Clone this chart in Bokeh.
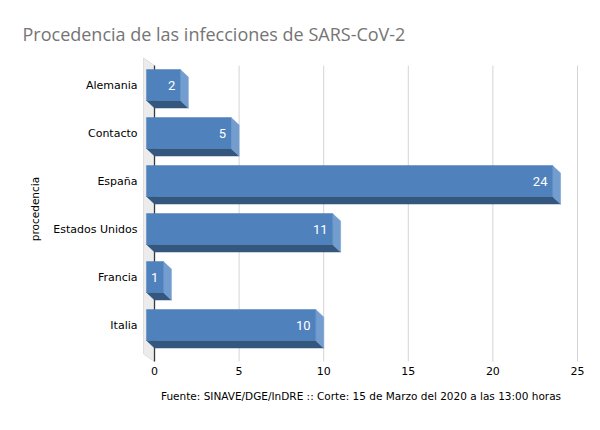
from bokeh.plotting import figure
from bokeh.models import Range1d, FixedTicker, Title, ColumnDataSource
from bokeh.embed import file_html
from bokeh.resources import INLINE
from bokeh.core.properties import value

categories = ["Alemania", "Contacto", "España", "Estados Unidos", "Francia", "Italia"]
counts = [2, 5, 24, 11, 1, 10]
x_ticks = [0, 5, 10, 15, 20, 25]
title_text = "Procedencia de las infecciones de SARS-CoV-2"
source_text = "Fuente: SINAVE/DGE/InDRE :: Corte: 15 de Marzo del 2020 a las 13:00 horas"
axis_title = "procedencia"

W, H = 600, 430
p = figure(width=W, height=H, output_backend="svg", toolbar_location=None,
           x_range=Range1d(-0.71, 25.12), y_range=Range1d(5.781, -0.615),
           min_border_left=142, min_border_right=21, min_border_top=55, min_border_bottom=68)
p.outline_line_color = None
p.background_fill_color = "white"
p.border_fill_color = "white"
p.xgrid.visible = False
p.ygrid.visible = False

# 3D geometry (in data units: x unit = 16.92px, y unit = 48px)
dx = 8 / 16.92
dy = 7.5 / 48
h = 15.5 / 48
n = len(categories)

# wall
wall_dx = 11 / 16.92
back_top = -0.5 + 0.094
back_bot = n - 0.5 + 0.26
p.patch([-wall_dx, 0, 0, -wall_dx],
        [back_top - dy, back_top, back_bot, back_bot - dy],
        fill_color="#ececec", line_color="#dedede", line_width=1)

# gridlines
gx = [t for t in x_ticks if t > 0]
p.segment(x0=gx, x1=gx, y0=[back_top] * len(gx), y1=[back_bot] * len(gx),
          line_color="#d4d4d4", line_width=1)
# axis line at zero
p.segment(x0=[0], x1=[0], y0=[back_top], y1=[back_bot], line_color="#3a3a3a", line_width=1.3)

ys = list(range(n))
# bottom face
p.patches([[-dx, v - dx, v, 0] for v in counts],
          [[i + h, i + h, i + h + dy, i + h + dy] for i, v in zip(ys, counts)],
          fill_color="#34577e", line_color="#34577e", line_width=0.5)
# side face
p.patches([[v - dx, v, v, v - dx] for v in counts],
          [[i - h, i - h + dy, i + h + dy, i + h] for i, v in zip(ys, counts)],
          fill_color="#739dcf", line_color="#739dcf", line_width=0.5)
# front face
p.quad(left=[-dx] * n, right=[v - dx for v in counts],
       top=[i - h for i in ys], bottom=[i + h for i in ys],
       fill_color="#4f81bd", line_color="#4f81bd", line_width=0.5)

src = ColumnDataSource(dict(x=[v - dx - 0.3 for v in counts], y=ys, t=[str(v) for v in counts]))
p.text(x="x", y="y", text="t", source=src, text_color="white", text_align="right",
       text_baseline="middle", text_font=value("Roboto"), text_font_size="13px")

# axes
p.xaxis.ticker = FixedTicker(ticks=x_ticks)
p.xaxis.axis_line_color = None
p.xaxis.major_tick_line_color = None
p.xaxis.minor_tick_line_color = None
p.xaxis.major_tick_out = 0
p.xaxis.minor_tick_out = 0
p.xaxis.major_label_standoff = 4
p.xaxis.major_label_text_font = "DejaVu Sans"
p.xaxis.major_label_text_font_size = "11px"
p.xaxis.major_label_text_color = "#000000"

p.yaxis.ticker = FixedTicker(ticks=ys)
p.yaxis.major_label_overrides = {i: c for i, c in enumerate(categories)}
p.yaxis.axis_line_color = None
p.yaxis.major_tick_line_color = None
p.yaxis.minor_tick_line_color = None
p.yaxis.major_tick_out = 0
p.yaxis.minor_tick_out = 0
p.yaxis.major_label_standoff = 5
p.yaxis.major_label_text_font = "DejaVu Sans"
p.yaxis.major_label_text_font_size = "11px"
p.yaxis.major_label_text_color = "#000000"
p.yaxis.axis_label = axis_title
p.yaxis.axis_label_text_font = "DejaVu Sans"
p.yaxis.axis_label_text_font_size = "10.5px"
p.yaxis.axis_label_text_font_style = "normal"
p.yaxis.axis_label_standoff = 9
p.yaxis.axis_label_text_color = "#000000"

p.add_layout(Title(text=source_text, text_font="DejaVu Sans", text_font_size="10.5px",
                   text_font_style="normal", text_color="#000000", align="center",
                   standoff=20), "below")
p.add_layout(Title(text=title_text, text_font="Open Sans", text_font_size="18px",
                   text_font_style="normal", text_color="#757575", align="left",
                   offset=-120, standoff=20), "above")

open("out.html", "w").write(file_html(p, INLINE))
